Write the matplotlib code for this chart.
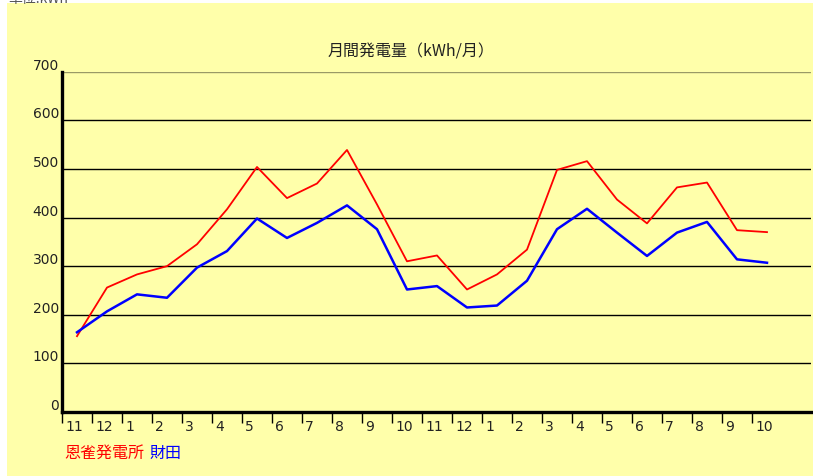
import matplotlib.pyplot as plt
from matplotlib.transforms import blended_transform_factory

plt.rcParams['font.family'] = ['Noto Sans CJK JP', 'DejaVu Sans']

# 月ラベル (2年分)
months = ['11', '12', '1', '2', '3', '4', '5', '6', '7', '8', '9', '10',
          '11', '12', '1', '2', '3', '4', '5', '6', '7', '8', '9', '10']
# 恩雀発電所 (kWh/月)
onjaku = [156, 256, 283, 300, 345, 417, 504, 440, 470, 539, 427, 310,
          322, 252, 283, 334, 498, 516, 437, 388, 462, 472, 374, 370]
# 財田 (kWh/月)
takarada = [164, 207, 242, 235, 297, 331, 398, 358, 389, 425, 376, 252,
            259, 215, 219, 270, 376, 418, 369, 321, 369, 391, 314, 307]
y_ticks = [0, 100, 200, 300, 400, 500, 600, 700]

W, H = 813, 477
bg = '#FFFFAA'

fig = plt.figure(figsize=(W / 100, H / 100), dpi=100)
fig.patch.set_facecolor('white')
# 黄色い背景
fig.patches.append(plt.Rectangle((7 / W, 0), 1 - 7 / W, 1 - 4 / H, transform=fig.transFigure,
                                 facecolor=bg, edgecolor='none', zorder=-10))
fig.text(8 / W, 1 + 1 / H, '単位:kWh', fontsize=10, color='#555555', va='center', ha='left')

ax = fig.add_axes([62 / W, (H - 413) / H, (811 - 62) / W, (413 - 72.7) / H])
ax.set_facecolor(bg)

x = [i + 0.5 for i in range(len(months))]
ax.plot(x, onjaku, color='#FF0000', lw=1.3, zorder=3)
ax.plot(x, takarada, color='#0000FF', lw=1.8, zorder=4)

ax.set_xlim(0, (811 - 62) / 30)
ax.set_ylim(0, 700)

for v in y_ticks[1:]:
    ax.axhline(v, color='black' if v < 700 else '#9a9a66', lw=1.0, zorder=1)

for s in ['top', 'right']:
    ax.spines[s].set_visible(False)
ax.spines['left'].set_linewidth(2.4)
ax.spines['bottom'].set_linewidth(2.4)

ax.set_yticks([])
ax.set_xticks(range(len(months)))
ax.set_xticklabels([])
ax.tick_params(axis='x', direction='out', length=8, width=1.0, color='black')

trans_y = blended_transform_factory(fig.transFigure, ax.transData)
for v in y_ticks:
    ax.text(59 / W, v, str(v), transform=trans_y, ha='right', va='bottom',
            fontsize=10, color='#222222', family='DejaVu Sans')

trans_x = blended_transform_factory(ax.transData, fig.transFigure)
for i, m in enumerate(months):
    ax.text(i + 0.1, 1 - 420 / H, m, transform=trans_x, ha='left', va='top',
            fontsize=10, color='#222222', family='DejaVu Sans')

fig.text(411 / W, 1 - 52 / H, '月間発電量（kWh/月）', ha='center', va='center',
         fontsize=11.5, color='#222222')
fig.text(64 / W, 1 - 453 / H, '恩雀発電所', ha='left', va='center', fontsize=11.5, color='#FF0000')
fig.text(149 / W, 1 - 453 / H, '財田', ha='left', va='center', fontsize=11.5, color='#0000FF')

fig.savefig('out.png', dpi=100, facecolor=fig.get_facecolor())
